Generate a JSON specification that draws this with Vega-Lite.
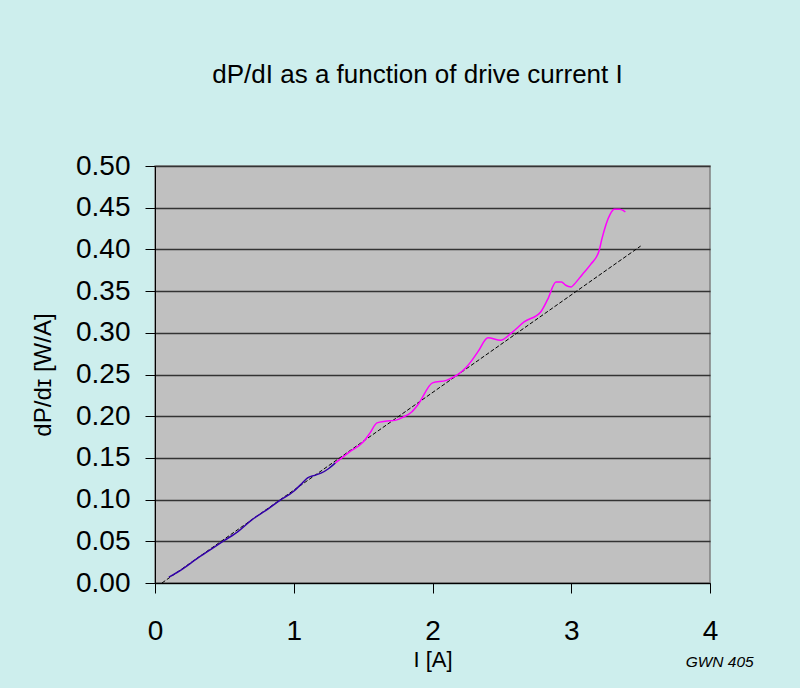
{
  "$schema": "https://vega.github.io/schema/vega-lite/v6.json",
  "width": 555,
  "height": 417,
  "autosize": {"type": "none"},
  "padding": {"left": 155, "top": 166, "right": 90, "bottom": 105},
  "background": "#cdeeed",
  "title": {
    "text": "dP/dI as a function of drive current I",
    "frame": "group",
    "anchor": "middle",
    "dx": -15,
    "offset": 43,
    "baseline": "alphabetic",
    "fontSize": 26,
    "font": "Liberation Sans",
    "fontWeight": "normal",
    "color": "#000000"
  },
  "config": {
    "view": {"fill": "#C0C0C0", "stroke": "#808080", "strokeWidth": 1.5},
    "font": "Liberation Sans",
    "axis": {
      "labelFont": "Liberation Sans",
      "titleFont": "Liberation Sans",
      "labelColor": "#000000",
      "titleColor": "#000000",
      "titleFontWeight": "normal",
      "domainColor": "#000000",
      "tickColor": "#000000",
      "labelFontSize": 28,
      "tickSize": 10,
      "labelFlush": false
    }
  },
  "datasets": {
    "curves": [
      {"I": 0.10, "v": 0.007, "series": "low"},
      {"I": 0.20, "v": 0.017, "series": "low"},
      {"I": 0.30, "v": 0.029, "series": "low"},
      {"I": 0.40, "v": 0.040, "series": "low"},
      {"I": 0.50, "v": 0.051, "series": "low"},
      {"I": 0.60, "v": 0.062, "series": "low"},
      {"I": 0.70, "v": 0.076, "series": "low"},
      {"I": 0.80, "v": 0.087, "series": "low"},
      {"I": 0.90, "v": 0.099, "series": "low"},
      {"I": 1.00, "v": 0.110, "series": "low"},
      {"I": 1.05, "v": 0.118, "series": "low"},
      {"I": 1.10, "v": 0.126, "series": "low"},
      {"I": 1.15, "v": 0.129, "series": "low"},
      {"I": 1.20, "v": 0.132, "series": "low"},
      {"I": 1.25, "v": 0.137, "series": "low"},
      {"I": 1.30, "v": 0.144, "series": "low"},
      {"I": 1.30, "v": 0.144, "series": "high"},
      {"I": 1.40, "v": 0.157, "series": "high"},
      {"I": 1.50, "v": 0.169, "series": "high"},
      {"I": 1.55, "v": 0.180, "series": "high"},
      {"I": 1.60, "v": 0.192, "series": "high"},
      {"I": 1.66, "v": 0.194, "series": "high"},
      {"I": 1.73, "v": 0.195, "series": "high"},
      {"I": 1.79, "v": 0.199, "series": "high"},
      {"I": 1.85, "v": 0.205, "series": "high"},
      {"I": 1.90, "v": 0.215, "series": "high"},
      {"I": 2.00, "v": 0.240, "series": "high"},
      {"I": 2.10, "v": 0.243, "series": "high"},
      {"I": 2.24, "v": 0.258, "series": "high"},
      {"I": 2.28, "v": 0.266, "series": "high"},
      {"I": 2.33, "v": 0.278, "series": "high"},
      {"I": 2.40, "v": 0.294, "series": "high"},
      {"I": 2.49, "v": 0.291, "series": "high"},
      {"I": 2.57, "v": 0.300, "series": "high"},
      {"I": 2.66, "v": 0.313, "series": "high"},
      {"I": 2.78, "v": 0.325, "series": "high"},
      {"I": 2.83, "v": 0.340, "series": "high"},
      {"I": 2.89, "v": 0.361, "series": "high"},
      {"I": 2.93, "v": 0.361, "series": "high"},
      {"I": 2.96, "v": 0.357, "series": "high"},
      {"I": 3.00, "v": 0.355, "series": "high"},
      {"I": 3.02, "v": 0.358, "series": "high"},
      {"I": 3.08, "v": 0.370, "series": "high"},
      {"I": 3.14, "v": 0.382, "series": "high"},
      {"I": 3.20, "v": 0.398, "series": "high"},
      {"I": 3.22, "v": 0.412, "series": "high"},
      {"I": 3.28, "v": 0.442, "series": "high"},
      {"I": 3.31, "v": 0.448, "series": "high"},
      {"I": 3.35, "v": 0.448, "series": "high"},
      {"I": 3.39, "v": 0.445, "series": "high"}
    ],
    "fit": [
      {"I": 0.05, "v": 0.0},
      {"I": 3.5, "v": 0.404}
    ],
    "note": [
      {"I": 4.07, "v": -0.095, "label": "GWN 405"}
    ]
  },
  "layer": [
    {
      "data": {"name": "fit"},
      "mark": {"type": "line", "color": "#000000", "strokeWidth": 1, "strokeDash": [4, 2]},
      "encoding": {
        "x": {
          "field": "I", "type": "quantitative",
          "scale": {"domain": [0, 4], "nice": false},
          "axis": {
            "title": "I [A]", "titleFontSize": 22, "values": [0, 1, 2, 3, 4], "format": "d",
            "grid": false, "labelPadding": 24, "titlePadding": 4, "domain": true
          }
        },
        "y": {
          "field": "v", "type": "quantitative",
          "scale": {"domain": [0, 0.5], "nice": false},
          "axis": {
            "title": "dP/dɪ [W/A]", "titleFontSize": 24,
            "values": [0, 0.05, 0.1, 0.15, 0.2, 0.25, 0.3, 0.35, 0.4, 0.45, 0.5],
            "format": ".2f", "grid": true, "gridColor": "#333333", "gridWidth": 1.5,
            "labelPadding": 15, "titlePadding": 20
          }
        }
      }
    },
    {
      "data": {"name": "curves"},
      "mark": {"type": "line", "strokeWidth": 1.5, "interpolate": "monotone"},
      "encoding": {
        "x": {"field": "I", "type": "quantitative"},
        "y": {"field": "v", "type": "quantitative"},
        "detail": {"field": "series"},
        "color": {
          "field": "series", "type": "nominal",
          "scale": {"domain": ["low", "high"], "range": ["#3300aa", "#ff00ff"]},
          "legend": null
        }
      }
    },
    {
      "data": {"name": "note"},
      "mark": {"type": "text", "fontSize": 15.5, "fontStyle": "italic", "font": "Liberation Sans", "color": "#000000", "clip": false},
      "encoding": {
        "x": {"field": "I", "type": "quantitative"},
        "y": {"field": "v", "type": "quantitative"},
        "text": {"field": "label"}
      }
    }
  ]
}
